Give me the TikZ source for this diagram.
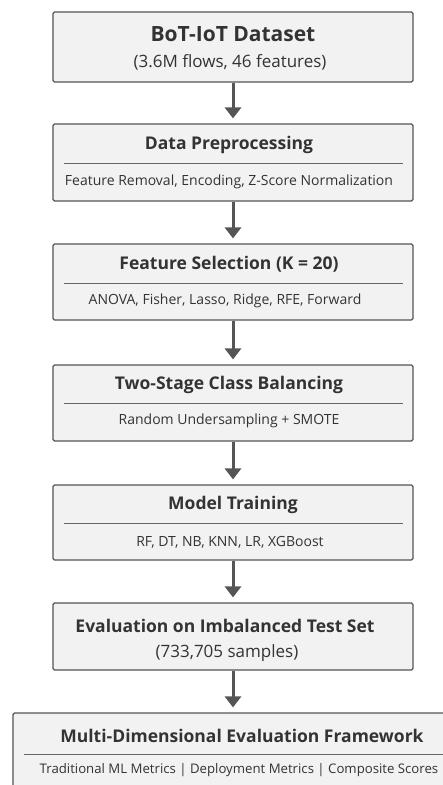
\documentclass[tikz,border=0pt]{standalone}
\usepackage{fontspec}
\setmainfont{Open Sans}
\usepackage{tikz}
\usetikzlibrary{arrows.meta}
\definecolor{boxLine}{HTML}{555555}
\definecolor{boxFill}{HTML}{F2F2F2}
\definecolor{inkColor}{HTML}{333333}
\definecolor{flowColor}{HTML}{555555}

\tikzset{
    stage/.style={draw=boxLine, fill=boxFill, line width=1.1pt, minimum width=360pt, rounded corners=1.5pt},
    head/.style={font=\bfseries\fontsize{17.5}{20}\selectfont, text=inkColor},
    body/.style={font=\fontsize{14}{17}\selectfont, text=inkColor},
    sep/.style={draw=boxLine!90, line width=0.7pt},
    flow/.style={-{Triangle[width=16pt,length=11pt]}, line width=3pt, draw=flowColor, shorten >=5pt}
}

\begin{document}
\begin{tikzpicture}[x=1pt, y=-1pt]
    \useasboundingbox (0,0) rectangle (443,785);

    % stages
    \node[stage, minimum height=70pt] (data) at (233,47) {};
    \node[stage, minimum height=77pt] (prep) at (233,162.5) {};
    \node[stage, minimum height=76pt] (select) at (233,282) {};
    \node[stage, minimum height=76pt] (balance) at (233,403) {};
    \node[stage, minimum height=75pt] (train) at (233,522.5) {};
    \node[stage, minimum height=67pt] (test) at (233,636.5) {};
    \node[stage, minimum height=90pt, minimum width=440pt] (frame) at (233,758) {};

    % texts
    \node[head, font=\bfseries\fontsize{21}{24}\selectfont] (dataT) at (233,34) {BoT-IoT Dataset};
    \node[body, font=\fontsize{17}{20}\selectfont] (dataS) at (230,62) {(3.6M flows, 46 features)};

    \node[head] (prepT) at (229,145) {Data Preprocessing};
    \draw[sep] (64,163) -- (403,163);
    \node[body] (prepS) at (229,182) {Feature Removal, Encoding, Z-Score Normalization};

    \node[head] (selectT) at (229,264) {Feature Selection (K = 20)};
    \draw[sep] (64,283) -- (403,283);
    \node[body] (selectS) at (225,301) {ANOVA, Fisher, Lasso, Ridge, RFE, Forward};

    \node[head] (balanceT) at (229,385) {Two-Stage Class Balancing};
    \draw[sep] (64,403) -- (403,403);
    \node[body] (balanceS) at (229,421) {Random Undersampling + SMOTE};

    \node[head] (trainT) at (233,505) {Model Training};
    \draw[sep] (64,523) -- (403,523);
    \node[body] (trainS) at (230,542) {RF, DT, NB, KNN, LR, XGBoost};

    \node[head] (testT) at (225,626) {Evaluation on Imbalanced Test Set};
    \node[body, font=\fontsize{17}{20}\selectfont] (testS) at (227,653) {(733,705 samples)};

    \node[head] (frameT) at (242,736) {Multi-Dimensional Evaluation Framework};
    \draw[sep] (24,754) -- (450,754);
    \node[body, font=\fontsize{13.2}{16}\selectfont] (frameS) at (239,770) {Traditional ML Metrics \textbar{} Deployment Metrics \textbar{} Composite Scores};

    % arrows
    \draw[flow] (data) -- (prep);
    \draw[flow] (prep) -- (select);
    \draw[flow] (select) -- (balance);
    \draw[flow] (balance) -- (train);
    \draw[flow] (train) -- (test);
    \draw[flow] (test) -- (frame);
\end{tikzpicture}
\end{document}
